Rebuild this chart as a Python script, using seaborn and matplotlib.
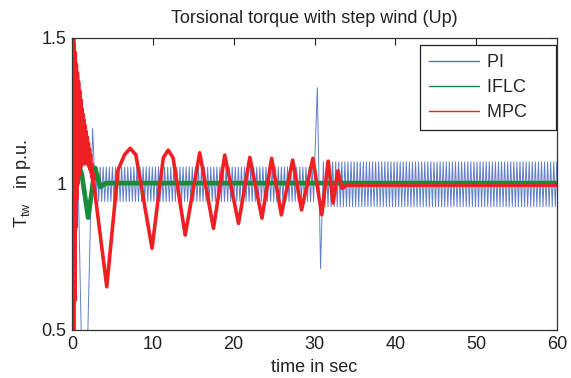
import numpy as np
import pandas as pd
import matplotlib
matplotlib.use("Agg")
import matplotlib.pyplot as plt
from matplotlib.lines import Line2D
import seaborn as sns

# ---------------- data ----------------
title = "Torsional torque with step wind (Up)"
x_label = "time in sec"
y_label = r"T$_{\rm tw}$   in p.u."
x_ticks = [0, 10, 20, 30, 40, 50, 60]
y_ticks = [0.5, 1.0, 1.5]
y_tick_labels = ["0.5", "1", "1.5"]
series_names = ["PI", "IFLC", "MPC"]

# PI: start-up transient turning points
pi_start_t = [0.0, 0.2, 1.35, 1.75, 2.55, 2.95]
pi_start_v = [1.00, 1.80, 0.20, 0.25, 1.19, 0.93]
# PI: steady oscillation band before the gust (upper / lower extremes)
pi_osc1_span = [3.1, 30.0]
pi_osc1_hi, pi_osc1_lo = 1.058, 0.940
# PI: spike at t = 30 s
pi_spike_t = [30.0, 30.35, 30.75, 31.1]
pi_spike_v = [1.05, 1.33, 0.71, 1.07]
# PI: steady oscillation band after the gust
pi_osc2_span = [31.1, 60.0]
pi_osc2_hi, pi_osc2_lo = 1.076, 0.922
pi_period = 0.38

# IFLC turning points
iflc_t = [0.0, 0.02, 0.4, 1.2, 2.0, 2.85, 3.5, 4.2, 60.0]
iflc_v = [1.00, 1.19, 1.10, 1.035, 0.885, 1.055, 0.99, 1.003, 1.003]

# MPC: fast start-up oscillation (alternating upper / lower extremes)
mpc_fast_span = [0.0, 2.7]
mpc_fast_hi = [1.50, 1.50, 1.48, 1.45, 1.41, 1.38, 1.35, 1.32, 1.29, 1.26,
               1.24, 1.22, 1.20, 1.18, 1.16, 1.14, 1.12, 1.10, 1.07, 1.04]
mpc_fast_lo = [0.50, 0.50, 0.60, 0.85, 0.95, 1.00, 1.03, 1.05, 1.06, 1.07,
               1.07, 1.07, 1.07, 1.07, 1.07, 1.06, 1.05, 1.04, 1.02, 1.01]
# MPC: slow swings turning points
mpc_t = [2.7, 4.3, 5.7, 6.5, 7.2, 7.9, 9.9, 11.3, 11.9, 12.5, 14.0, 15.8, 17.5,
         18.9, 20.6, 22.0, 23.5, 24.7, 25.9, 27.3, 28.4, 29.8, 30.9, 31.7, 32.3,
         32.9, 33.4, 34.0, 60.0]
mpc_v = [1.00, 0.648, 1.048, 1.10, 1.122, 1.10, 0.78, 1.09, 1.116, 1.09, 0.825,
         1.107, 0.848, 1.099, 0.865, 1.091, 0.883, 1.088, 0.894, 1.082, 0.911,
         1.088, 0.895, 1.078, 0.935, 1.045, 0.985, 0.996, 0.996]

# ---------------- assemble series ----------------
def band(span, hi, lo, period):
    n = int((span[1] - span[0]) / (period / 2))
    t = span[0] + np.arange(n + 1) * period / 2
    v = ([hi, lo] * (n // 2 + 2))[: n + 1]
    return list(t), v

o1t, o1v = band(pi_osc1_span, pi_osc1_hi, pi_osc1_lo, pi_period)
o2t, o2v = band(pi_osc2_span, pi_osc2_hi, pi_osc2_lo, pi_period)
pi_t = pi_start_t + o1t + pi_spike_t + o2t
pi_v = pi_start_v + o1v + pi_spike_v + o2v

n_fast = len(mpc_fast_hi)
fast_t = np.linspace(mpc_fast_span[0], mpc_fast_span[1], 2 * n_fast + 1)[:-1]
fast_v = [val for pair in zip(mpc_fast_hi, mpc_fast_lo) for val in pair]
mpc_all_t = list(fast_t) + mpc_t
mpc_all_v = fast_v + mpc_v

df_pi = pd.DataFrame({"t": pi_t, "v": pi_v})
df_iflc = pd.DataFrame({"t": iflc_t, "v": iflc_v})
df_mpc = pd.DataFrame({"t": mpc_all_t, "v": mpc_all_v})

# ---------------- drawing ----------------
sns.set_theme(style="white")
plt.rcParams["font.family"] = ["Liberation Sans", "DejaVu Sans"]
plt.rcParams["mathtext.fontset"] = "custom"
plt.rcParams["mathtext.rm"] = "Liberation Sans"

c_pi, c_iflc, c_mpc = "#4f70c6", "#1b8a3a", "#ee2024"

fig = plt.figure(figsize=(5.71, 3.78), dpi=100)
ax = fig.add_axes([72 / 571, 48 / 378, 485 / 571, 292 / 378])

sns.lineplot(data=df_pi, x="t", y="v", ax=ax, color=c_pi, lw=0.7, alpha=0.9,
             estimator=None, sort=False)
sns.lineplot(data=df_iflc, x="t", y="v", ax=ax, color=c_iflc, lw=3.4,
             estimator=None, sort=False)
sns.lineplot(data=df_mpc, x="t", y="v", ax=ax, color=c_mpc, lw=2.6,
             estimator=None, sort=False)

ax.set_xlim(0, 60)
ax.set_ylim(0.5, 1.5)
ax.set_xticks(x_ticks)
ax.set_xticklabels([str(x) for x in x_ticks])
ax.set_yticks(y_ticks)
ax.set_yticklabels(y_tick_labels)
ax.tick_params(direction="in", top=True, right=True, length=5, width=0.8,
               labelsize=13, colors="#222222", pad=4)
for s in ax.spines.values():
    s.set_color("#333333")
    s.set_linewidth(0.9)

ax.set_xlabel(x_label, fontsize=13, labelpad=5, color="#222222")
ax.set_ylabel(y_label, fontsize=13, labelpad=6, color="#222222")
ax.set_title(title, fontsize=13, pad=11, color="#222222")

handles = [Line2D([], [], color=c, lw=1.0) for c in (c_pi, c_iflc, c_mpc)]
labels = [name + "    " for name in series_names]
leg = ax.legend(handles, labels, loc="upper right",
                bbox_to_anchor=(0.997, 0.976), borderaxespad=0, fontsize=13,
                handlelength=2.8, handletextpad=0.4, labelspacing=0.45,
                borderpad=0.5, fancybox=False, framealpha=1)
leg.get_frame().set_edgecolor("#222222")
leg.get_frame().set_linewidth(0.9)

fig.savefig("out.png", dpi=100)
